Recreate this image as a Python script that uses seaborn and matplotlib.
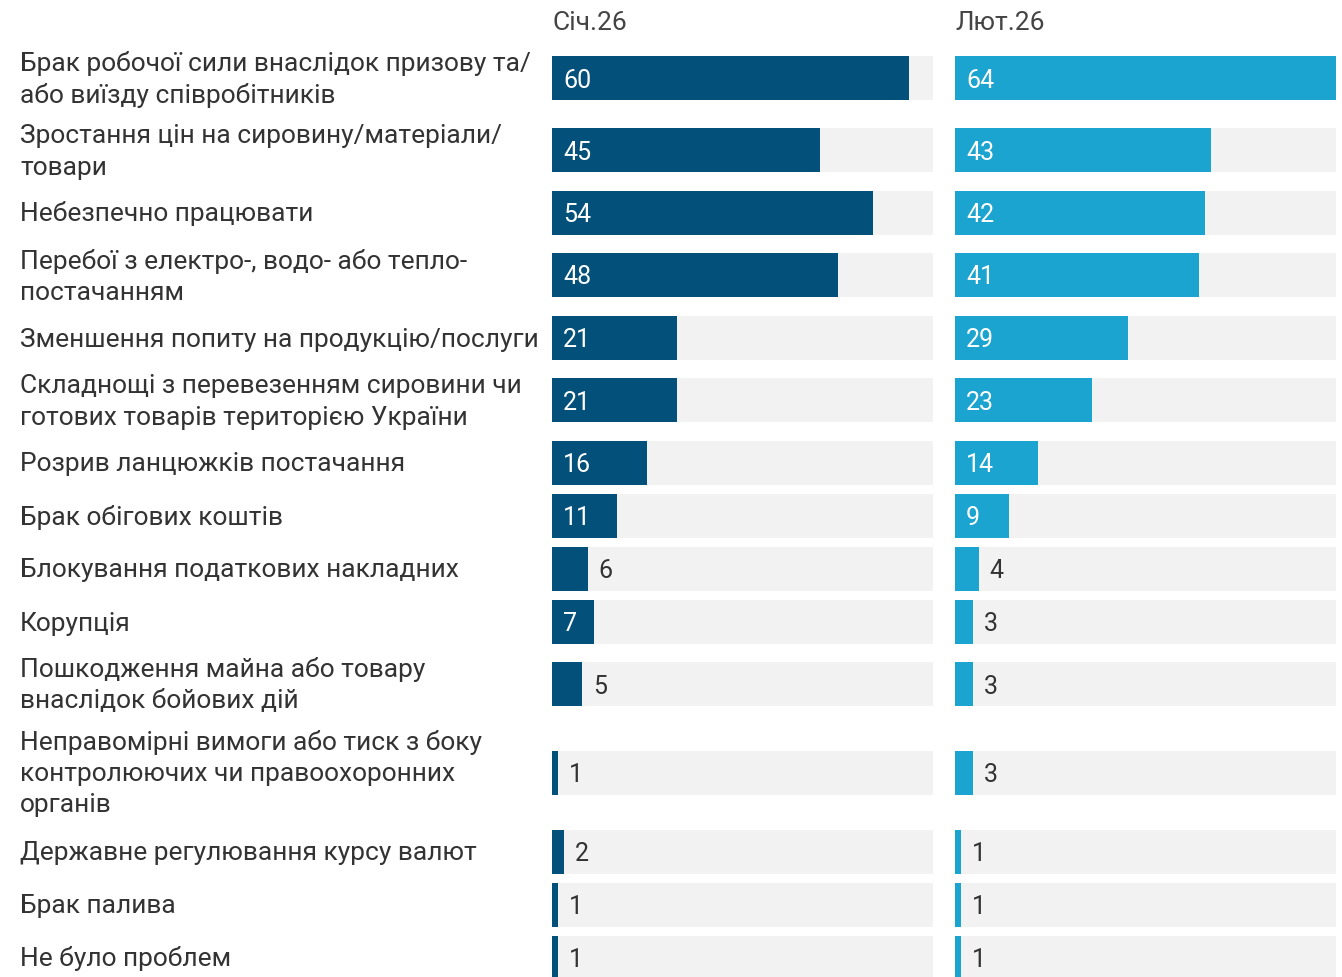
import matplotlib
matplotlib.use("Agg")
import matplotlib.pyplot as plt
import seaborn as sns
import numpy as np
import pandas as pd

# ---------------- data ----------------
categories = [
    "Брак робочої сили внаслідок призову та/\nабо виїзду співробітників",
    "Зростання цін на сировину/матеріали/\nтовари",
    "Небезпечно працювати",
    "Перебої з електро-, водо- або тепло-\nпостачанням",
    "Зменшення попиту на продукцію/послуги",
    "Складнощі з перевезенням сировини чи\nготових товарів територією України",
    "Розрив ланцюжків постачання",
    "Брак обігових коштів",
    "Блокування податкових накладних",
    "Корупція",
    "Пошкодження майна або товару\nвнаслідок бойових дій",
    "Неправомірні вимоги або тиск з боку\nконтролюючих чи правоохоронних\nорганів",
    "Державне регулювання курсу валют",
    "Брак палива",
    "Не було проблем",
]
jan_values = [60, 45, 54, 48, 21, 21, 16, 11, 6, 7, 5, 1, 2, 1, 1]
feb_values = [64, 43, 42, 41, 29, 23, 14, 9, 4, 3, 3, 3, 1, 1, 1]
column_titles = ["Січ.26", "Лют.26"]

# ---------------- style ----------------
sns.set_theme(style="white")
plt.rcParams["font.family"] = ["Roboto", "DejaVu Sans"]

W, H = 1342, 978
DPI = 100
TEXT = "#333333"
DARK = "#03507a"
LIGHT = "#1ba4d0"
BG = "#f2f2f2"
FS_LABEL = 19
FS_VALUE = 18

# layout: row heights depending on the number of label lines
row_h = {1: 53, 2: 72, 3: 105}
nlines = [c.count("\n") + 1 for c in categories]
centers = []
y = 79 - row_h[nlines[0]] / 2
for n in nlines:
    centers.append(y + row_h[n] / 2)
    y += row_h[n]
centers = np.array(centers)

xmax = max(max(jan_values), max(feb_values))
df = pd.DataFrame({
    "cat": categories,
    "pos": centers,
    "jan": jan_values,
    "feb": feb_values,
    "full": [xmax] * len(categories),
})

fig = plt.figure(figsize=(W / DPI, H / DPI), dpi=DPI)
fig.patch.set_facecolor("white")

panels = [(552, "jan", DARK, column_titles[0]), (955, "feb", LIGHT, column_titles[1])]
bar_w = 44 / 53
for left, col, color, title in panels:
    ax = fig.add_axes([left / W, 0, 381 / W, 1])
    sns.barplot(data=df, x="full", y="pos", orient="h", native_scale=True,
                color=BG, saturation=1, width=bar_w, linewidth=0, ax=ax)
    sns.barplot(data=df, x=col, y="pos", orient="h", native_scale=True,
                color=color, saturation=1, width=bar_w, linewidth=0, ax=ax)
    ax.set_xlim(0, xmax)
    ax.set_ylim(H, 0)
    ax.axis("off")
    px = xmax / 381.0  # data units per pixel
    for v, yc in zip(df[col], df["pos"]):
        if v >= 7:
            ax.text(11 * px, yc + 8.5, str(v), color="white", fontsize=FS_VALUE,
                    va="baseline", ha="left")
        else:
            ax.text(v + 11 * px, yc + 8.5, str(v), color=TEXT, fontsize=FS_VALUE,
                    va="baseline", ha="left")
    fig.text(left / W, 1 - 30 / H, title, color="#444444", fontsize=FS_LABEL,
             va="baseline", ha="left")

# category labels
line_gap = 31
for cat, yc in zip(categories, centers):
    lines = cat.split("\n")
    n = len(lines)
    for i, ln in enumerate(lines):
        ly = yc + (i - (n - 1) / 2) * line_gap + 8
        fig.text(20 / W, 1 - ly / H, ln, color=TEXT, fontsize=FS_LABEL,
                 va="baseline", ha="left")

fig.savefig("out.png", dpi=DPI, facecolor="white")
